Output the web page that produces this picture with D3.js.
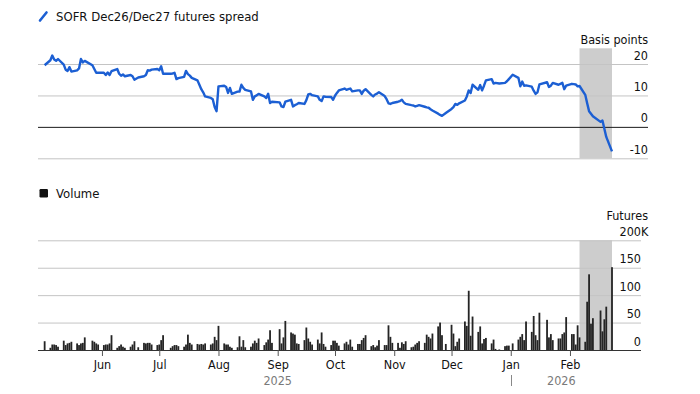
<!DOCTYPE html>
<html>
<head>
<meta charset="utf-8">
<script src="https://cdn.jsdelivr.net/npm/d3@7"></script>
<style>
  html, body { margin: 0; padding: 0; background: #fff; }
  svg text { font-family: "DejaVu Sans Condensed", "DejaVu Sans", sans-serif; font-stretch: condensed; fill: #111; }
</style>
</head>
<body>
<div id="chart"></div>
<script>
// Daily values, one row per week (Mon..Fri), first row is the week of 28 Apr 2025.
// null = no session (holiday / before the series starts)
const firstWeek = '2025-04-28';

// SOFR Dec26/Dec27 futures spread, basis points
const spreadBp = [
  [null, null, null, null, 19.6],
  [21.2, 22.7, 21.4, 21.0, 21.6],
  [19.8, 18.2, 17.8, 19.0, 17.6],
  [18.0, 18.6, 21.6, 20.5, 21.0],
  [null, 19.6, 18.4, 17.2, 17.2],
  [17.2, 16.5, 17.3, 16.5, 17.7],
  [18.4, 16.9, 16.3, 16.7, 16.1],
  [16.5, 16.1, 15.0, null, 15.7],
  [16.1, 16.5, 18.0, 17.9, 18.2],
  [18.4, 18.0, 19.3, 16.9, null],
  [16.9, 17.0, 17.2, 15.2, 15.5],
  [15.9, 17.8, 16.8, 16.3, 15.6],
  [14.8, 13.4, 12.0, 11.0, 9.7],
  [9.2, 8.8, 6.3, 5.0, 12.9],
  [13.1, 12.7, 10.8, 12.4, 10.5],
  [11.2, 11.2, 13.4, 12.4, 11.8],
  [11.3, 8.6, 9.7, 10.0, 10.5],
  [9.7, 9.2, 10.5, 7.6, 8.0],
  [null, 7.8, 6.5, 6.3, 8.0],
  [8.6, 6.5, 6.9, 7.2, 7.6],
  [7.3, 8.5, 10.3, 10.5, 10.1],
  [9.7, 8.6, 8.2, 9.7, 9.6],
  [9.5, 8.6, 9.9, 10.8, 11.6],
  [12.2, 11.8, 12.0, 12.2, 11.3],
  [11.6, 11.6, 10.5, 11.5, 12.0],
  [10.2, 9.7, 10.3, 10.6, 11.0],
  [9.8, 8.8, 7.5, 7.3, 7.6],
  [8.0, 8.2, 8.6, 7.8, 7.3],
  [6.9, 6.8, 6.5, 6.7, 6.9],
  [6.4, 6.2, 6.1, 5.6, 5.2],
  [4.2, 3.8, 3.5, null, 4.4],
  [5.7, 6.3, 7.3, 7.0, 7.5],
  [8.4, 9.7, 11.6, 10.8, 13.4],
  [11.8, 13.3, 11.6, 13.1, 14.8],
  [15.2, 13.8, 14.0, null, 13.8],
  [14.0, 14.5, 15.2, null, 16.6],
  [15.6, 12.9, 14.4, 13.1, 13.2],
  [12.8, 11.5, 10.5, 11.0, 13.5],
  [null, 14.2, 12.7, 13.1, 14.0],
  [13.4, 13.7, 14.0, 12.0, 13.1],
  [13.7, 13.6, 13.5, 12.9, 13.0],
  [10.2, 7.5, 5.0, 4.2, 3.4],
  [null, 1.6, 2.0, -0.6, -3.2],
  [-7.8]
];

// Futures volume, thousands of contracts
const volumeK = [
  [null, null, null, null, 16],
  [4, 10, 10, 9, 6],
  [17, 9, 12, 13, 15],
  [12, 9, 12, 13, 23],
  [null, 17, 15, 12, 10],
  [9, 10, 10, 12, 27],
  [4, 7, 10, 6, 4],
  [6, 10, 16, null, 5],
  [13, 12, 13, 13, 10],
  [9, 10, 18, 27, null],
  [4, 7, 9, 9, 7],
  [6, 10, 28, 13, 10],
  [11, 10, 11, 10, 12],
  [10, 12, 24, 18, 44],
  [12, 10, 10, 6, 4],
  [5, 25, 6, 18, 5],
  [6, 12, 17, 13, 21],
  [9, 14, 19, 36, 13],
  [null, 38, 12, 23, 53],
  [32, 30, 28, 12, 11],
  [18, 41, 21, 15, 10],
  [19, 12, 32, 11, 6],
  [9, 17, 17, 13, 8],
  [12, 15, 10, 19, 6],
  [11, 11, 18, 22, 27],
  [7, 9, 5, 8, 18],
  [9, 9, 45, 24, 13],
  [13, 4, 14, 11, 16],
  [5, 6, 10, 13, 16],
  [13, 28, 24, 21, 30],
  [43, 50, 27, null, 11],
  [46, 30, 7, 15, 21],
  [52, 44, 108, 26, 61],
  [33, 43, 12, 20, 22],
  [12, 19, 2, null, 1],
  [7, 8, 8, null, 12],
  [19, 24, 29, 18, 52],
  [33, 62, 27, 18, 68],
  [null, 55, 23, 29, 18],
  [21, 21, 29, 32, 60],
  [29, 29, 10, 45, 23],
  [15, 88, 138, 48, 58],
  [null, 72, 34, 56, 79],
  [151]
];

const monthTicks = ['2025-06-01', '2025-07-01', '2025-08-01', '2025-09-01', '2025-10-01',
  '2025-11-01', '2025-12-01', '2026-01-01', '2026-02-01'];
const years = ['2025', '2026'];
const spreadTicks = [-10, 0, 10, 20];
const volumeTicks = [0, 50, 100, 150, 200];
const shadePeriod = ['2026-02-06', '2026-02-23'];

const width = 700;
const height = 394;
const left = 37;
const topRight = 648;
const volRight = 641;
const blue = '#1c5fd3';
const grid = '#c4c4c4';

const parseDate = d3.timeParse('%Y-%m-%d');
const start = parseDate(firstWeek);

function toSeries(rows) {
  const out = [];
  rows.forEach((row, w) => row.forEach((v, d) => {
    if (v == null) return;
    out.push({ date: d3.timeDay.offset(start, w * 7 + d), value: v });
  }));
  return out;
}

const spread = toSeries(spreadBp);
const volume = toSeries(volumeK);
const lastDate = spread[spread.length - 1].date;

const x = d3.scaleTime()
  .domain([start, lastDate])
  .range([left, 612]);

const yTop = d3.scaleLinear().domain([-10, 25]).range([158.3, 48.3]);
const yVol = d3.scaleLinear().domain([0, 200]).range([350, 240.3]);

const svg = d3.select('#chart')
  .append('svg')
  .attr('width', width)
  .attr('height', height);

// highlighted period
const shadeX0 = x(parseDate(shadePeriod[0]));
const shadeX1 = x(parseDate(shadePeriod[1]));
[[yTop(25), yTop(-10)], [yVol(200), yVol(0)]].forEach(([y0, y1]) => {
  svg.append('rect')
    .attr('x', shadeX0)
    .attr('y', y0)
    .attr('width', shadeX1 - shadeX0)
    .attr('height', y1 - y0)
    .attr('fill', '#cdcdcd');
});

// legends
svg.append('line')
  .attr('x1', 40).attr('y1', 20.5).attr('x2', 46.5).attr('y2', 12.5)
  .attr('stroke', blue).attr('stroke-width', 2.6).attr('stroke-linecap', 'round');
svg.append('text')
  .attr('x', 56).attr('y', 21)
  .style('font-size', '13px')
  .text('SOFR Dec26/Dec27 futures spread');

svg.append('rect')
  .attr('x', 39.5).attr('y', 189).attr('width', 8.5).attr('height', 8.5).attr('rx', 1.2)
  .attr('fill', '#111');
svg.append('text')
  .attr('x', 56).attr('y', 197.5)
  .style('font-size', '13px')
  .text('Volume');

// unit labels
svg.append('text')
  .attr('x', topRight).attr('y', 43.5)
  .attr('text-anchor', 'end')
  .style('font-size', '12.5px')
  .text('Basis points');
svg.append('text')
  .attr('x', topRight).attr('y', 220)
  .attr('text-anchor', 'end')
  .style('font-size', '12.5px')
  .text('Futures');

// spread axis
const topAxis = svg.append('g')
  .attr('transform', `translate(${left + 1},0)`)
  .call(d3.axisRight(yTop)
    .tickValues(spreadTicks)
    .tickSize(topRight - left - 1)
    .tickFormat(d => String(d)));
topAxis.select('.domain').remove();
topAxis.selectAll('.tick line')
  .attr('stroke', d => d === 0 ? '#1a1a1a' : grid);
topAxis.selectAll('.tick text')
  .attr('x', topRight - left - 1)
  .attr('y', -5)
  .attr('dy', null)
  .attr('text-anchor', 'end')
  .style('font-size', '12.5px');

// volume axis
const volAxis = svg.append('g')
  .attr('transform', `translate(${left + 1},0)`)
  .call(d3.axisRight(yVol)
    .tickValues(volumeTicks)
    .tickSize(volRight - left - 1)
    .tickFormat(d => String(d)));
volAxis.select('.domain').remove();
volAxis.selectAll('.tick line')
  .attr('stroke', d => d === 0 ? '#333' : grid);
volAxis.selectAll('.tick text')
  .attr('x', volRight - left - 1)
  .attr('y', -5)
  .attr('dy', null)
  .attr('text-anchor', 'end')
  .style('font-size', '12.5px');
volAxis.selectAll('.tick')
  .filter(d => d === d3.max(volumeTicks))
  .append('text')
  .attr('x', volRight - left - 1)
  .attr('y', -5)
  .attr('text-anchor', 'start')
  .attr('fill', '#111')
  .style('font-size', '12.5px')
  .text('K');

// spread line
const line = d3.line()
  .x(d => x(d.date))
  .y(d => yTop(d.value));

svg.append('path')
  .datum(spread)
  .attr('fill', 'none')
  .attr('stroke', blue)
  .attr('stroke-width', 2.4)
  .attr('stroke-linejoin', 'round')
  .attr('d', line);

// volume bars
svg.append('g')
  .selectAll('rect')
  .data(volume)
  .join('rect')
  .attr('x', d => x(d.date) - 0.9)
  .attr('y', d => yVol(d.value))
  .attr('width', 1.8)
  .attr('height', d => yVol(0) - yVol(d.value))
  .attr('fill', '#242424');

// time axis
const xAxis = svg.append('g')
  .attr('transform', `translate(0,${yVol(0)})`)
  .call(d3.axisBottom(x)
    .tickValues(monthTicks.map(parseDate))
    .tickSize(6)
    .tickFormat(d3.timeFormat('%b')));
xAxis.select('.domain').remove();
xAxis.selectAll('.tick line').attr('stroke', '#555');
xAxis.selectAll('.tick text')
  .attr('y', 19)
  .attr('dy', null)
  .style('font-size', '12.5px');

// year labels, centred on the part of the axis each year covers
const yearStart = d3.timeYear.ceil(spread[0].date);
const yearSpans = [[spread[0].date, yearStart], [yearStart, lastDate]];
years.forEach((label, i) => {
  const [a, b] = yearSpans[i];
  svg.append('text')
    .attr('x', (x(a) + x(b)) / 2)
    .attr('y', 385)
    .attr('text-anchor', 'middle')
    .style('font-size', '12.5px')
    .style('fill', '#7a7a7a')
    .text(label);
});
svg.append('line')
  .attr('x1', Math.round(x(yearStart)) + 0.5)
  .attr('x2', Math.round(x(yearStart)) + 0.5)
  .attr('y1', 375)
  .attr('y2', 386)
  .attr('stroke', '#888');
</script>
</body>
</html>
